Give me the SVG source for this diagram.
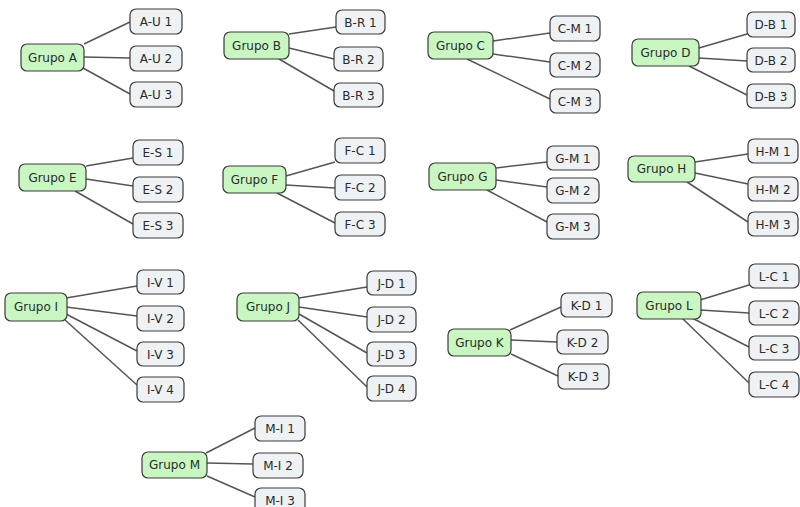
<svg xmlns="http://www.w3.org/2000/svg" width="800" height="507" viewBox="0 0 800 507">
  <style>
    .bg { fill: #ffffff; }
    .edge { stroke: #555555; stroke-width: 1.5; fill: none; }
    .grp rect { fill: #c8f7c2; stroke: #3a3a3a; stroke-width: 1.2; }
    .leaf rect { fill: #eef2f5; stroke: #3a3a3a; stroke-width: 1.2; }
    text { font-family: "DejaVu Sans", Verdana, sans-serif; font-size: 12px; fill: #2a2a2a; text-anchor: middle; }
  </style>
  <rect class="bg" x="0" y="0" width="800" height="507"/>

  <!-- connectors from each group to its members -->
  <g id="connectors">
    <line class="edge" x1="84" y1="44" x2="130" y2="22"/>
    <line class="edge" x1="84" y1="57" x2="130" y2="58"/>
    <line class="edge" x1="83" y1="68" x2="130" y2="94"/>

    <line class="edge" x1="289" y1="34" x2="336" y2="27"/>
    <line class="edge" x1="289" y1="48" x2="334" y2="59"/>
    <line class="edge" x1="279" y1="59" x2="334" y2="91"/>

    <line class="edge" x1="493" y1="41" x2="550" y2="33"/>
    <line class="edge" x1="493" y1="54" x2="550" y2="62"/>
    <line class="edge" x1="467" y1="59" x2="550" y2="99"/>

    <line class="edge" x1="699" y1="48" x2="747" y2="34"/>
    <line class="edge" x1="699" y1="58" x2="747" y2="61"/>
    <line class="edge" x1="689" y1="66" x2="747" y2="95"/>

    <line class="edge" x1="86" y1="166" x2="133" y2="158"/>
    <line class="edge" x1="86" y1="179" x2="133" y2="186"/>
    <line class="edge" x1="75" y1="191" x2="133" y2="224"/>

    <line class="edge" x1="286" y1="176" x2="335" y2="162"/>
    <line class="edge" x1="286" y1="185" x2="335" y2="188"/>
    <line class="edge" x1="277" y1="193" x2="335" y2="223"/>

    <line class="edge" x1="496" y1="168" x2="547" y2="162"/>
    <line class="edge" x1="496" y1="180" x2="547" y2="187"/>
    <line class="edge" x1="487" y1="190" x2="547" y2="222"/>

    <line class="edge" x1="695" y1="162" x2="748" y2="154"/>
    <line class="edge" x1="695" y1="173" x2="748" y2="184"/>
    <line class="edge" x1="687" y1="182" x2="748" y2="222"/>

    <line class="edge" x1="66" y1="298" x2="137" y2="286"/>
    <line class="edge" x1="66" y1="307" x2="137" y2="316"/>
    <line class="edge" x1="66" y1="314" x2="137" y2="351"/>
    <line class="edge" x1="65" y1="320" x2="137" y2="385"/>

    <line class="edge" x1="299" y1="298" x2="367" y2="287"/>
    <line class="edge" x1="299" y1="307" x2="367" y2="317"/>
    <line class="edge" x1="299" y1="314" x2="367" y2="353"/>
    <line class="edge" x1="298" y1="320" x2="367" y2="387"/>

    <line class="edge" x1="510" y1="330" x2="561" y2="307"/>
    <line class="edge" x1="511" y1="340" x2="557" y2="342"/>
    <line class="edge" x1="511" y1="354" x2="558" y2="376"/>

    <line class="edge" x1="700" y1="300" x2="749" y2="285"/>
    <line class="edge" x1="700" y1="310" x2="749" y2="313"/>
    <line class="edge" x1="690" y1="317" x2="749" y2="347"/>
    <line class="edge" x1="682" y1="318" x2="749" y2="383"/>

    <line class="edge" x1="206" y1="453" x2="255" y2="428"/>
    <line class="edge" x1="207" y1="463" x2="253" y2="464"/>
    <line class="edge" x1="207" y1="476" x2="255" y2="497"/>
  </g>

  <!-- group nodes -->
  <g id="grupo-a" class="grp"><rect x="21" y="44" width="63" height="27" rx="6"/><text x="52.5" y="61.5">Grupo A</text></g>
  <g id="grupo-b" class="grp"><rect x="224" y="32" width="65" height="27" rx="6"/><text x="256.5" y="49.5">Grupo B</text></g>
  <g id="grupo-c" class="grp"><rect x="428" y="32" width="65" height="27" rx="6"/><text x="460.5" y="49.5">Grupo C</text></g>
  <g id="grupo-d" class="grp"><rect x="632" y="39" width="67" height="27" rx="6"/><text x="665.5" y="56.5">Grupo D</text></g>
  <g id="grupo-e" class="grp"><rect x="19" y="164" width="67" height="27" rx="6"/><text x="52.5" y="181.5">Grupo E</text></g>
  <g id="grupo-f" class="grp"><rect x="223" y="166" width="63" height="27" rx="6"/><text x="254.5" y="183.5">Grupo F</text></g>
  <g id="grupo-g" class="grp"><rect x="429" y="163" width="67" height="27" rx="6"/><text x="462.5" y="180.5">Grupo G</text></g>
  <g id="grupo-h" class="grp"><rect x="628" y="156" width="67" height="26" rx="6"/><text x="661.5" y="173">Grupo H</text></g>
  <g id="grupo-i" class="grp"><rect x="5" y="293" width="62" height="28" rx="6"/><text x="36" y="311">Grupo I</text></g>
  <g id="grupo-j" class="grp"><rect x="237" y="293" width="62" height="28" rx="6"/><text x="268" y="311">Grupo J</text></g>
  <g id="grupo-k" class="grp"><rect x="448" y="329" width="63" height="27" rx="6"/><text x="479.5" y="346.5">Grupo K</text></g>
  <g id="grupo-l" class="grp"><rect x="637" y="292" width="64" height="27" rx="6"/><text x="669" y="309.5">Grupo L</text></g>
  <g id="grupo-m" class="grp"><rect x="142" y="452" width="65" height="26" rx="6"/><text x="174.5" y="469">Grupo M</text></g>

  <!-- member nodes -->
  <g id="a-u-1" class="leaf"><rect x="130" y="9" width="52" height="25" rx="6"/><text x="156" y="26">A-U 1</text></g>
  <g id="a-u-2" class="leaf"><rect x="130" y="46" width="52" height="25" rx="6"/><text x="156" y="63">A-U 2</text></g>
  <g id="a-u-3" class="leaf"><rect x="130" y="82" width="52" height="25" rx="6"/><text x="156" y="99">A-U 3</text></g>

  <g id="b-r-1" class="leaf"><rect x="336" y="10" width="49" height="24" rx="6"/><text x="360.5" y="26.5">B-R 1</text></g>
  <g id="b-r-2" class="leaf"><rect x="334" y="47" width="49" height="24" rx="6"/><text x="358.5" y="63.5">B-R 2</text></g>
  <g id="b-r-3" class="leaf"><rect x="334" y="83" width="49" height="24" rx="6"/><text x="358.5" y="99.5">B-R 3</text></g>

  <g id="c-m-1" class="leaf"><rect x="550" y="16" width="50" height="25" rx="6"/><text x="575" y="33">C-M 1</text></g>
  <g id="c-m-2" class="leaf"><rect x="550" y="53" width="50" height="24" rx="6"/><text x="575" y="69.5">C-M 2</text></g>
  <g id="c-m-3" class="leaf"><rect x="550" y="89" width="50" height="24" rx="6"/><text x="575" y="105.5">C-M 3</text></g>

  <g id="d-b-1" class="leaf"><rect x="747" y="12" width="48" height="25" rx="6"/><text x="771" y="29">D-B 1</text></g>
  <g id="d-b-2" class="leaf"><rect x="747" y="48" width="48" height="24" rx="6"/><text x="771" y="64.5">D-B 2</text></g>
  <g id="d-b-3" class="leaf"><rect x="747" y="84" width="48" height="24" rx="6"/><text x="771" y="100.5">D-B 3</text></g>

  <g id="e-s-1" class="leaf"><rect x="133" y="140" width="50" height="25" rx="6"/><text x="158" y="157">E-S 1</text></g>
  <g id="e-s-2" class="leaf"><rect x="133" y="177" width="50" height="25" rx="6"/><text x="158" y="194">E-S 2</text></g>
  <g id="e-s-3" class="leaf"><rect x="133" y="213" width="50" height="25" rx="6"/><text x="158" y="230">E-S 3</text></g>

  <g id="f-c-1" class="leaf"><rect x="335" y="138" width="50" height="25" rx="6"/><text x="360" y="155">F-C 1</text></g>
  <g id="f-c-2" class="leaf"><rect x="335" y="175" width="50" height="25" rx="6"/><text x="360" y="192">F-C 2</text></g>
  <g id="f-c-3" class="leaf"><rect x="335" y="212" width="50" height="24" rx="6"/><text x="360" y="228.5">F-C 3</text></g>

  <g id="g-m-1" class="leaf"><rect x="547" y="146" width="52" height="24" rx="6"/><text x="573" y="162.5">G-M 1</text></g>
  <g id="g-m-2" class="leaf"><rect x="547" y="178" width="52" height="25" rx="6"/><text x="573" y="195">G-M 2</text></g>
  <g id="g-m-3" class="leaf"><rect x="547" y="214" width="52" height="25" rx="6"/><text x="573" y="231">G-M 3</text></g>

  <g id="h-m-1" class="leaf"><rect x="748" y="139" width="50" height="24" rx="6"/><text x="773" y="155.5">H-M 1</text></g>
  <g id="h-m-2" class="leaf"><rect x="748" y="177" width="50" height="24" rx="6"/><text x="773" y="193.5">H-M 2</text></g>
  <g id="h-m-3" class="leaf"><rect x="748" y="212" width="50" height="24" rx="6"/><text x="773" y="228.5">H-M 3</text></g>

  <g id="i-v-1" class="leaf"><rect x="137" y="270" width="47" height="24" rx="6"/><text x="160.5" y="286.5">I-V 1</text></g>
  <g id="i-v-2" class="leaf"><rect x="137" y="306" width="47" height="25" rx="6"/><text x="160.5" y="323">I-V 2</text></g>
  <g id="i-v-3" class="leaf"><rect x="137" y="342" width="47" height="24" rx="6"/><text x="160.5" y="358.5">I-V 3</text></g>
  <g id="i-v-4" class="leaf"><rect x="137" y="377" width="47" height="25" rx="6"/><text x="160.5" y="394">I-V 4</text></g>

  <g id="j-d-1" class="leaf"><rect x="367" y="271" width="49" height="24" rx="6"/><text x="391.5" y="287.5">J-D 1</text></g>
  <g id="j-d-2" class="leaf"><rect x="367" y="307" width="49" height="25" rx="6"/><text x="391.5" y="324">J-D 2</text></g>
  <g id="j-d-3" class="leaf"><rect x="367" y="342" width="49" height="24" rx="6"/><text x="391.5" y="358.5">J-D 3</text></g>
  <g id="j-d-4" class="leaf"><rect x="367" y="376" width="49" height="25" rx="6"/><text x="391.5" y="393">J-D 4</text></g>

  <g id="k-d-1" class="leaf"><rect x="561" y="293" width="51" height="24" rx="6"/><text x="586.5" y="309.5">K-D 1</text></g>
  <g id="k-d-2" class="leaf"><rect x="557" y="330" width="51" height="24" rx="6"/><text x="582.5" y="346.5">K-D 2</text></g>
  <g id="k-d-3" class="leaf"><rect x="558" y="364" width="51" height="25" rx="6"/><text x="583.5" y="381">K-D 3</text></g>

  <g id="l-c-1" class="leaf"><rect x="749" y="264" width="50" height="24" rx="6"/><text x="774" y="280.5">L-C 1</text></g>
  <g id="l-c-2" class="leaf"><rect x="749" y="301" width="50" height="24" rx="6"/><text x="774" y="317.5">L-C 2</text></g>
  <g id="l-c-3" class="leaf"><rect x="749" y="336" width="50" height="24" rx="6"/><text x="774" y="352.5">L-C 3</text></g>
  <g id="l-c-4" class="leaf"><rect x="749" y="372" width="50" height="25" rx="6"/><text x="774" y="389">L-C 4</text></g>

  <g id="m-i-1" class="leaf"><rect x="255" y="416" width="50" height="25" rx="6"/><text x="280" y="433">M-I 1</text></g>
  <g id="m-i-2" class="leaf"><rect x="253" y="453" width="50" height="25" rx="6"/><text x="278" y="470">M-I 2</text></g>
  <g id="m-i-3" class="leaf"><rect x="255" y="488" width="50" height="25" rx="6"/><text x="280" y="505">M-I 3</text></g>
</svg>
